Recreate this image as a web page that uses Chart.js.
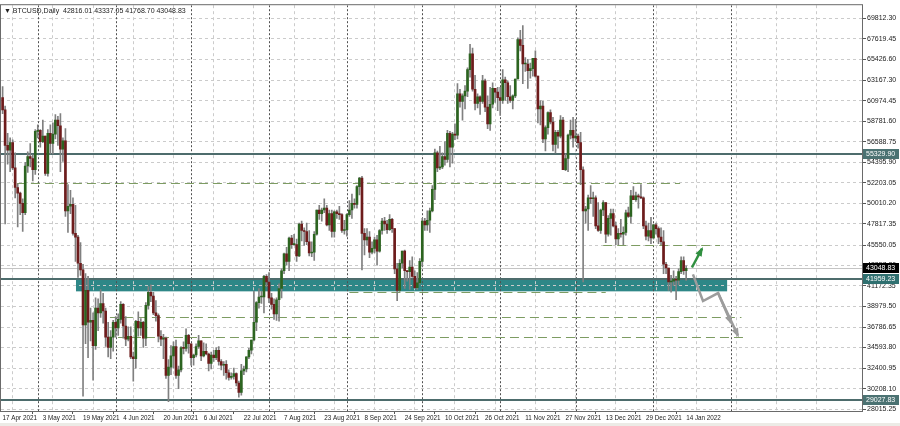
<!DOCTYPE html>
<html><head><meta charset="utf-8">
<script src="https://cdn.jsdelivr.net/npm/chart.js@4.4.1/dist/chart.umd.min.js"></script>
<style>html,body{margin:0;padding:0;background:#fff;overflow:hidden}#wrap{width:900px;height:426px}</style>
</head><body><div id="wrap"><canvas id="c" width="900" height="426"></canvas></div>
<script>
// ---- daily bars, 17 Apr 2021 .. 14 Jan 2022, prices in thousands of USD ----
const opens = [
61.3,60.0,56.2,55.7,56.5,53.8,51.7,51.1,50.0,49.0,54.0,55.0,54.8,53.6,
57.7,57.8,56.6,57.2,53.2,57.5,56.4,57.4,58.9,58.3,55.8,56.7,49.2,49.7,49.9,46.8,46.4,43.6,42.9,37.0,40.7,37.3,37.5,34.8,38.8,38.3,39.3,38.5,35.7,34.6,35.7,
37.3,36.7,37.6,39.2,36.9,35.5,35.8,33.6,33.4,37.4,36.7,37.3,35.6,39.1,40.5,40.1,38.3,38.0,35.8,35.5,35.6,31.6,32.5,33.7,34.7,31.6,32.2,34.6,34.5,35.9,
35.0,33.5,33.8,34.7,35.3,33.7,34.2,33.9,32.9,33.8,33.5,34.3,33.1,32.7,32.8,31.9,31.4,31.5,31.8,30.8,29.8,32.1,32.3,33.6,34.3,35.4,37.3,39.4,40.0,40.0,42.2,
41.6,39.9,39.2,38.2,39.7,40.9,42.8,44.6,43.8,46.3,45.6,45.6,44.4,47.8,47.1,47.0,45.9,44.7,44.8,46.7,49.3,48.9,49.3,49.5,47.7,48.9,47.0,49.1,48.9,48.8,47.1,
47.2,48.8,49.3,50.0,49.9,51.8,52.7,46.8,46.1,46.4,44.8,45.2,46.1,44.9,47.1,48.1,47.8,47.2,48.3,47.3,43.0,40.7,43.6,44.9,42.8,42.7,43.2,42.2,41.0,41.5,
43.8,48.1,47.7,48.2,49.2,51.5,55.4,53.8,53.9,55.0,54.7,57.5,56.0,57.4,57.3,61.7,60.9,61.5,62.0,64.3,66.0,62.2,60.7,61.4,60.9,63.1,60.3,58.5,60.6,62.3,61.9,
61.3,61.0,63.2,62.9,61.4,61.0,61.5,63.3,67.5,66.9,64.9,64.9,64.2,64.4,65.5,63.6,60.1,60.4,56.9,58.1,59.7,58.7,56.3,57.6,57.2,58.9,53.6,54.8,57.3,57.8,
57.0,57.2,56.5,53.6,49.2,49.4,50.6,50.5,50.6,47.6,47.1,49.3,50.1,46.7,48.4,48.9,47.6,46.2,46.8,46.7,46.9,49.0,48.6,50.8,50.4,50.8,50.7,50.6,47.6,46.5,47.1,
46.3,47.7,47.3,46.4,45.9,43.5,43.1,41.6,41.7,41.9,41.8,42.7,43.9,42.816];
const highs = [
62.5,60.4,57.5,57.0,56.8,55.4,52.1,51.2,50.5,54.4,55.5,56.4,55.2,57.9,
58.4,57.9,58.9,57.2,57.9,58.4,58.6,59.5,59.3,59.6,57.0,58.0,52.0,51.4,50.6,49.8,46.6,45.8,43.5,42.5,42.2,38.8,38.3,39.9,39.8,40.8,40.4,38.8,37.3,36.4,37.5,
37.9,38.2,39.5,39.3,37.9,36.8,36.8,34.1,37.5,38.4,37.7,37.4,39.4,41.1,41.3,40.5,39.6,38.2,36.4,36.0,35.7,33.3,34.8,35.2,35.4,32.6,34.7,35.2,36.6,36.0,
35.0,33.9,35.0,35.9,35.3,35.1,35.0,34.0,34.1,34.3,34.6,34.7,33.3,33.1,33.2,32.2,31.9,32.4,31.9,31.0,32.8,32.6,33.6,34.5,35.4,40.6,39.5,40.9,40.6,42.3,42.4,
42.6,40.4,39.8,39.9,41.4,43.0,44.7,45.3,46.4,46.6,46.7,46.2,47.9,48.1,47.4,47.9,47.1,45.9,47.0,49.3,49.8,49.5,50.5,49.8,49.3,49.3,49.2,49.3,49.7,48.9,48.2,
48.9,50.3,51.0,50.5,51.9,52.8,52.9,47.3,47.3,47.0,45.9,46.4,46.6,47.2,48.4,48.5,48.2,48.8,48.4,47.3,43.6,44.0,44.9,45.0,42.8,43.9,44.3,42.8,42.6,44.1,
48.4,48.4,49.2,49.5,51.9,55.8,55.6,56.1,55.4,56.6,57.8,57.7,57.6,58.5,62.8,62.2,61.7,62.6,64.5,67.0,66.6,63.7,61.7,61.5,63.7,63.3,61.5,62.4,62.9,62.3,62.4,
62.4,64.3,63.5,63.1,62.6,61.6,63.3,67.7,68.5,69.0,65.6,65.4,65.0,65.5,66.3,63.6,61.0,60.9,58.3,59.8,60.0,59.2,57.8,57.8,59.4,59.2,55.3,57.4,58.9,59.2,
59.0,57.4,57.6,53.9,49.7,50.9,51.9,51.2,50.8,50.1,49.4,50.3,50.1,48.7,49.4,49.4,48.0,47.3,48.3,47.5,49.3,49.6,51.4,51.8,51.2,51.0,52.0,50.7,48.1,47.9,48.5,
47.8,47.9,47.5,47.4,47.1,43.7,43.1,42.3,42.8,42.2,43.0,44.3,44.3,43.337];
const lows = [
59.6,47.8,54.2,53.4,53.6,50.6,47.5,48.8,47.0,48.8,53.3,53.9,52.4,53.1,
57.0,56.0,56.5,53.0,52.9,55.3,55.3,56.9,56.2,53.4,54.5,48.6,46.9,48.9,46.6,43.8,42.1,42.3,29.4,35.0,33.5,35.3,31.1,34.4,36.4,37.8,37.2,34.7,33.6,33.4,34.2,
35.7,35.9,37.2,35.6,34.8,35.3,33.4,31.0,32.4,35.8,35.9,34.6,34.8,38.7,39.5,38.1,37.4,35.2,34.8,33.4,31.3,28.8,31.7,32.4,31.3,30.2,32.0,33.9,34.2,34.0,
32.7,32.7,33.6,34.5,33.2,33.6,33.8,32.1,32.3,33.1,33.3,32.7,32.2,31.6,31.2,31.1,31.2,31.2,30.5,29.3,29.5,31.7,32.0,33.4,33.9,35.3,36.4,38.8,39.3,38.3,41.1,
39.4,38.7,37.6,37.5,37.4,39.9,42.5,43.4,42.8,45.2,45.5,43.8,44.3,46.0,45.5,45.6,44.4,44.3,43.9,46.6,48.3,48.1,49.0,47.6,47.1,46.4,46.4,48.4,48.3,46.9,46.7,
46.5,48.6,48.4,49.5,49.5,50.9,42.9,44.5,45.5,44.2,44.6,44.7,43.4,44.8,46.7,47.1,46.8,47.1,46.9,42.5,39.6,40.6,43.1,40.9,41.7,40.8,42.1,40.9,40.8,41.4,
43.3,47.1,47.1,46.9,49.1,50.4,53.4,53.6,53.7,54.1,54.4,53.9,54.3,56.8,56.9,60.3,58.9,60.1,61.4,63.5,62.0,60.0,60.2,59.5,60.7,59.8,58.0,57.8,60.2,60.8,59.9,
59.4,60.7,61.0,60.7,60.8,60.1,61.3,63.3,66.3,62.8,64.1,62.3,63.4,63.6,63.5,58.6,58.4,56.5,55.6,57.4,58.5,55.6,55.4,55.9,57.0,53.6,53.5,53.4,56.9,56.0,
56.6,55.9,52.0,41.6,47.9,47.1,50.0,48.6,47.3,47.0,46.8,48.7,45.8,46.5,46.6,47.5,45.6,45.6,46.4,45.6,46.6,48.5,47.9,50.4,50.2,49.5,50.5,47.3,46.1,46.0,45.7,
46.2,46.7,45.7,45.6,42.5,42.5,40.7,40.5,41.2,39.7,41.3,42.5,42.4,41.769];
const closes = [
60.0,56.2,55.7,56.5,53.8,51.7,51.1,50.0,49.0,54.0,55.0,54.8,53.6,57.7,
57.8,56.6,57.2,53.2,57.5,56.4,57.4,58.9,58.3,55.8,56.7,49.2,49.7,49.9,46.8,46.4,43.6,42.9,37.0,40.7,37.3,37.5,34.8,38.8,38.3,39.3,38.5,35.7,34.6,35.7,37.3,
36.7,37.6,39.2,36.9,35.5,35.8,33.6,33.4,37.4,36.7,37.3,35.6,39.1,40.5,40.1,38.3,38.0,35.8,35.5,35.6,31.6,32.5,33.7,34.7,31.6,32.2,34.6,34.5,35.9,35.0,
33.5,33.8,34.7,35.3,33.7,34.2,33.9,32.9,33.8,33.5,34.3,33.1,32.7,32.8,31.9,31.4,31.5,31.8,30.8,29.8,32.1,32.3,33.6,34.3,35.4,37.3,39.4,40.0,40.0,42.2,41.6,
39.9,39.2,38.2,39.7,40.9,42.8,44.6,43.8,46.3,45.6,45.6,44.4,47.8,47.1,47.0,45.9,44.7,44.8,46.7,49.3,48.9,49.3,49.5,47.7,48.9,47.0,49.1,48.9,48.8,47.1,47.2,
48.8,49.3,50.0,49.9,51.8,52.7,46.8,46.1,46.4,44.8,45.2,46.1,44.9,47.1,48.1,47.8,47.2,48.3,47.3,43.0,40.7,43.6,44.9,42.8,42.7,43.2,42.2,41.0,41.5,43.8,
48.1,47.7,48.2,49.2,51.5,55.4,53.8,53.9,55.0,54.7,57.5,56.0,57.4,57.3,61.7,60.9,61.5,62.0,64.3,66.0,62.2,60.7,61.4,60.9,63.1,60.3,58.5,60.6,62.3,61.9,61.3,
61.0,63.2,62.9,61.4,61.0,61.5,63.3,67.5,66.9,64.9,64.9,64.2,64.4,65.5,63.6,60.1,60.4,56.9,58.1,59.7,58.7,56.3,57.6,57.2,58.9,53.6,54.8,57.3,57.8,57.0,
57.2,56.5,53.6,49.2,49.4,50.6,50.5,50.6,47.6,47.1,49.3,50.1,46.7,48.4,48.9,47.6,46.2,46.8,46.7,46.9,49.0,48.6,50.8,50.4,50.8,50.7,50.6,47.6,46.5,47.1,46.3,
47.7,47.3,46.4,45.9,43.5,43.1,41.6,41.7,41.9,41.8,42.7,43.9,42.8,43.049];

// x-axis date labels (one every 16 bars, bar index = position in arrays)
const dateLabels = ["17 Apr 2021","3 May 2021","19 May 2021","4 Jun 2021","20 Jun 2021","6 Jul 2021","22 Jul 2021","7 Aug 2021","23 Aug 2021","8 Sep 2021","24 Sep 2021","10 Oct 2021","26 Oct 2021","11 Nov 2021","27 Nov 2021","13 Dec 2021","29 Dec 2021","14 Jan 2022"];
const monthStartBars = [14,45,75,106,137,167,198,228,259,290];
// y-axis tick values (thousands) and their labels
const priceTicks = [69.8123,67.61945,65.4266,63.1673,60.97445,58.7816,56.58875,54.3959,52.20305,50.0102,47.81735,45.55005,43.3572,41.17235,38.9795,36.78665,34.5938,32.40095,30.2081,28.01525];
const priceLabels = ["69812.30","67619.45","65426.60","63167.30","60974.45","58781.60","56588.75","54395.90","52203.05","50010.20","47817.35","45550.05","43357.20","41172.35","38979.50","36786.65","34593.80","32400.95","30208.10","28015.25"];
// drawn objects: horizontal levels, zone, dashed lines, arrows (bar index, price)
const solidLevels = [55.3299, 41.95923, 29.02783];
const levelTags = [["55329.90",55.3299,"#4b7272"],["43048.83",43.04883,"#000000"],["41959.23",41.95923,"#2f7070"],["29027.83",29.02783,"#4b7272"]];
const bidPrice = 43.04883;
const zone = {from: 29.2, to: 288.3, top: 41.95923, bottom: 40.6};
const dashedLevels = [[52.15, 5.7, 269.6],[45.6, 239, 285.5],[40.58, 138, 240],[37.86, 42.7, 294],[35.69, 45.9, 295.4]];
const greenArrow = [[274.3,43.15],[278.3,45.16]];
const grayArrow = [[274.7,42.42],[278.7,39.57],[284.7,40.42],[292.6,35.87]];
const grayArrow2 = [[284.7,40.42],[289.9,37.22]];
const header = "\u25BC BTCUSD,Daily  42816.01 43337.05 41768.70 43048.83";

const FONT = "'Liberation Sans', Arial, sans-serif";
const bull = '#2c6420', bear = '#6e1c1c', wickColor = '#808080';
const bodies = closes.map((c,i)=>({x:i, y:[opens[i], c]}));
const wicks = highs.map((h,i)=>({x:i, y:[lows[i], h]}));
const bodyColors = closes.map((c,i)=> c>=opens[i] ? bull : bear);
const xTickBars = []; for (let v=0; v<=336; v+=8) xTickBars.push(v);

function arrow(ctx, pts, color, w, head){
  ctx.save(); ctx.strokeStyle=color; ctx.fillStyle=color; ctx.lineWidth=w; ctx.lineJoin='miter'; ctx.lineCap='butt';
  ctx.beginPath(); ctx.moveTo(pts[0][0],pts[0][1]);
  for (let k=1;k<pts.length;k++) ctx.lineTo(pts[k][0],pts[k][1]);
  const a=pts[pts.length-2], b=pts[pts.length-1];
  const ang=Math.atan2(b[1]-a[1], b[0]-a[0]);
  ctx.stroke();
  ctx.beginPath(); ctx.moveTo(b[0]+Math.cos(ang)*2,b[1]+Math.sin(ang)*2);
  ctx.lineTo(b[0]-Math.cos(ang-0.45)*head, b[1]-Math.sin(ang-0.45)*head);
  ctx.lineTo(b[0]-Math.cos(ang+0.45)*head, b[1]-Math.sin(ang+0.45)*head);
  ctx.closePath(); ctx.fill(); ctx.restore();
}

const overlay = {
  id:'overlay',
  beforeDraw(chart){
    const {ctx, chartArea:a, scales:{x,y}} = chart;
    ctx.save(); ctx.fillStyle='#fff'; ctx.fillRect(0,0,chart.width,chart.height);
    ctx.fillStyle='#ecebe6'; ctx.fillRect(0,423,chart.width,3);
    ctx.fillStyle='#2e8787';
    const x1=x.getPixelForValue(zone.from), x2=x.getPixelForValue(zone.to);
    const y1=y.getPixelForValue(zone.top), y2=y.getPixelForValue(zone.bottom);
    ctx.fillRect(x1,y1,x2-x1,y2-y1);
    ctx.restore();
  },
  beforeDatasetsDraw(chart){
    const {ctx, chartArea:a, scales:{x,y}} = chart;
    ctx.save(); ctx.beginPath(); ctx.rect(a.left,a.top,a.right-a.left,a.bottom-a.top); ctx.clip();
    ctx.strokeStyle='#505050'; ctx.lineWidth=1; ctx.setLineDash([2,2]);
    monthStartBars.forEach(m=>{ const px=Math.round(x.getPixelForValue(m))+0.5; ctx.beginPath(); ctx.moveTo(px,a.top); ctx.lineTo(px,a.bottom); ctx.stroke(); });
    ctx.setLineDash([]); ctx.strokeStyle='#c4c4c4';
    let py=Math.round(y.getPixelForValue(bidPrice))+0.5; ctx.beginPath(); ctx.moveTo(a.left,py); ctx.lineTo(a.right,py); ctx.stroke();
    ctx.strokeStyle='#7d9c62'; ctx.setLineDash([9,5]); ctx.lineWidth=1;
    dashedLevels.forEach(d=>{ const yy=Math.round(y.getPixelForValue(d[0]))+0.5; ctx.beginPath(); ctx.moveTo(x.getPixelForValue(d[1]),yy); ctx.lineTo(x.getPixelForValue(d[2]),yy); ctx.stroke(); });
    ctx.setLineDash([]); ctx.strokeStyle='#4d6c6c'; ctx.lineWidth=2;
    solidLevels.forEach(v=>{ const yy=Math.round(y.getPixelForValue(v)); ctx.beginPath(); ctx.moveTo(a.left,yy); ctx.lineTo(a.right,yy); ctx.stroke(); });
    ctx.restore();
  },
  afterDatasetsDraw(chart){
    const {ctx, scales:{x,y}} = chart;
    const P = pts => pts.map(p=>[x.getPixelForValue(p[0]), y.getPixelForValue(p[1])]);
    arrow(ctx, P(grayArrow2), '#9c9c9c', 2.5, 8);
    arrow(ctx, P(grayArrow), '#9c9c9c', 2.5, 8);
    arrow(ctx, P(greenArrow), '#2f8f3f', 2.5, 8);
  },
  afterDraw(chart){
    const {ctx, chartArea:a, scales:{y}} = chart;
    ctx.save();
    ctx.strokeStyle='#6a6a6a'; ctx.lineWidth=1;
    ctx.strokeRect(a.left-0.5,a.top-0.5,a.right-a.left+1,a.bottom-a.top+1);
    ctx.font='7px '+FONT; ctx.textBaseline='middle';
    levelTags.forEach(t=>{ const yy=Math.round(y.getPixelForValue(t[1]));
      ctx.fillStyle=t[2]; ctx.fillRect(a.right+1,yy-5,36,10);
      ctx.fillStyle='#ffffff'; ctx.fillText(t[0], a.right+4, yy+0.5); });
    ctx.fillStyle='#222'; ctx.font='7px '+FONT;
    ctx.fillText(header, a.left+3, a.top+6);
    ctx.restore();
  }
};

new Chart(document.getElementById('c'), {
  type:'bar',
  data:{datasets:[
    {data: bodies, backgroundColor: bodyColors, barThickness: 2, minBarLength: 1, borderWidth: 0, grouped:false},
    {data: wicks, backgroundColor: wickColor, barThickness: 1, borderWidth: 0, grouped:false}
  ]},
  options:{
    responsive:false, animation:false, events:[], devicePixelRatio:1,
    layout:{padding:{left:1, top:1, right:0, bottom:0}},
    plugins:{legend:{display:false}, tooltip:{enabled:false}},
    scales:{
      x:{type:'linear', min:-0.64, max:341.97, offset:false,
        afterBuildTicks: s => { s.ticks = xTickBars.map(v=>({value:v})); },
        afterFit: s => { s.height = 15; },
        ticks:{autoSkip:false, maxRotation:0, minRotation:0, align:'start', padding:0, color:'#222', font:{family:FONT, size:6.3},
          callback: v => (v%16===0 && v/16 < dateLabels.length) ? dateLabels[v/16] : ''},
        grid:{drawTicks:true, tickLength:3, lineWidth:1,
          color: c => (c.tick && c.tick.value%16===8) ? '#cbcbcb' : 'rgba(0,0,0,0)',
          tickColor: c => (c.tick && c.tick.value%16===0 && c.tick.value<=272) ? '#555' : 'rgba(0,0,0,0)'},
        border:{display:false, dash:[3,3]}
      },
      y:{position:'right', min:27.81, max:71.187,
        afterBuildTicks: s => { s.ticks = priceTicks.map(v=>({value:v})); },
        afterFit: s => { s.width = 38; },
        ticks:{padding:1, color:'#222', font:{family:FONT, size:7},
          callback: v => { const j = priceTicks.indexOf(v); return j>=0 ? priceLabels[j] : ''; }},
        grid:{color:'#cbcbcb', tickColor:'#555', tickLength:4, drawTicks:true, lineWidth:1},
        border:{display:false, dash:[3,3]}
      }
    }
  },
  plugins:[overlay]
});
</script></body></html>
